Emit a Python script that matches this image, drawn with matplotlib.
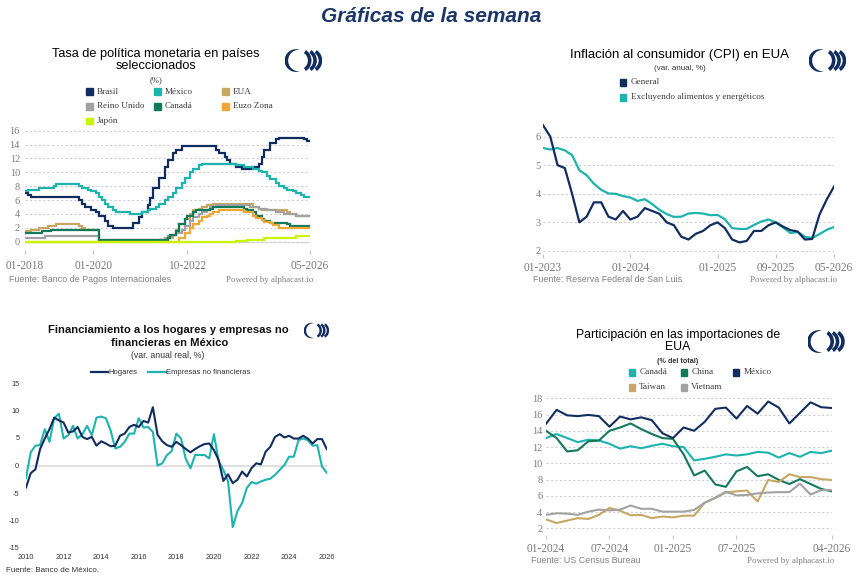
import numpy as np
import matplotlib
matplotlib.use("Agg")
import matplotlib.pyplot as plt
from matplotlib.patches import Rectangle, Wedge, Polygon
from matplotlib.lines import Line2D

plt.rcParams["axes.unicode_minus"] = False

W, H = 856, 581
SANS = "Liberation Sans"
SERIF = "Liberation Serif"

NAVY = "#112d5e"
TEAL = "#1db3ae"
TAN = "#c8a763"
GRAY = "#a2a2a2"
GREEN = "#12795a"
ORANGE = "#efa733"
LIME = "#c8f500"
TICK_GRAY = "#7b7b7b"
SRC_GRAY = "#808080"

# --- Tasa de politica monetaria (mes de cambio, nivel) ---
brasil_dates = ["2018-01", "2018-02", "2018-03", "2019-08", "2019-09", "2019-10", "2019-12",
                "2020-02", "2020-03", "2020-05", "2020-06", "2020-08", "2021-03", "2021-05",
                "2021-06", "2021-08", "2021-09", "2021-10", "2021-12", "2022-02", "2022-03",
                "2022-05", "2022-06", "2022-08", "2023-08", "2023-09", "2023-11", "2023-12",
                "2024-01", "2024-03", "2024-05", "2024-09", "2024-11", "2024-12", "2025-01",
                "2025-03", "2025-05", "2025-06", "2026-03", "2026-04"]
brasil_vals = [7.0, 6.75, 6.5, 6.0, 5.5, 5.0, 4.5, 4.25, 3.75, 3.0, 2.25, 2.0, 2.75, 3.5,
               4.25, 5.25, 6.25, 7.75, 9.25, 10.75, 11.75, 12.75, 13.25, 13.75, 13.25, 12.75,
               12.25, 11.75, 11.25, 10.75, 10.5, 10.75, 11.25, 12.25, 13.25, 14.25, 14.75,
               15.0, 14.75, 14.5]
mex_dates = ["2018-01", "2018-02", "2018-06", "2018-11", "2018-12", "2019-08", "2019-09",
             "2019-11", "2019-12", "2020-02", "2020-03", "2020-04", "2020-05", "2020-06",
             "2020-08", "2020-09", "2021-02", "2021-06", "2021-08", "2021-09", "2021-11",
             "2021-12", "2022-02", "2022-03", "2022-05", "2022-06", "2022-08", "2022-09",
             "2022-11", "2022-12", "2023-02", "2023-03", "2024-03", "2024-06", "2024-09",
             "2024-11", "2024-12", "2025-02", "2025-03", "2025-05", "2025-06", "2025-08",
             "2025-09", "2025-11", "2025-12", "2026-02", "2026-03"]
mex_vals = [7.25, 7.5, 7.75, 8.0, 8.25, 8.0, 7.75, 7.5, 7.25, 7.0, 6.5, 6.0, 5.5, 5.0, 4.5,
            4.25, 4.0, 4.25, 4.5, 4.75, 5.0, 5.5, 6.0, 6.5, 7.0, 7.75, 8.5, 9.25, 10.0, 10.5,
            11.0, 11.25, 11.0, 10.75, 10.5, 10.25, 10.0, 9.5, 9.0, 8.5, 8.0, 7.75, 7.5, 7.25,
            7.0, 6.75, 6.5]
eua_dates = ["2018-01", "2018-03", "2018-06", "2018-09", "2018-12", "2019-08", "2019-09",
             "2019-10", "2020-03", "2022-03", "2022-05", "2022-06", "2022-07", "2022-09",
             "2022-11", "2022-12", "2023-02", "2023-03", "2023-05", "2023-07", "2024-09",
             "2024-11", "2024-12", "2025-09", "2025-10", "2025-12"]
eua_vals = [1.5, 1.75, 2.0, 2.25, 2.5, 2.25, 2.0, 1.75, 0.25, 0.5, 1.0, 1.75, 2.5, 3.25, 4.0,
            4.5, 4.75, 5.0, 5.25, 5.5, 5.0, 4.75, 4.5, 4.25, 4.0, 3.75]
uk_dates = ["2018-01", "2018-08", "2020-03", "2021-12", "2022-02", "2022-03", "2022-05",
            "2022-06", "2022-08", "2022-09", "2022-11", "2022-12", "2023-02", "2023-03",
            "2023-05", "2023-06", "2023-08", "2024-08", "2024-11", "2025-02", "2025-05",
            "2025-08", "2025-12"]
uk_vals = [0.5, 0.75, 0.1, 0.25, 0.5, 0.75, 1.0, 1.25, 1.75, 2.25, 3.0, 3.5, 4.0, 4.25, 4.5,
           5.0, 5.25, 5.0, 4.75, 4.5, 4.25, 4.0, 3.75]
can_dates = ["2018-01", "2018-07", "2018-10", "2020-03", "2022-03", "2022-04", "2022-06",
             "2022-07", "2022-09", "2022-10", "2022-12", "2023-01", "2023-06", "2023-07",
             "2024-06", "2024-07", "2024-09", "2024-10", "2024-12", "2025-01", "2025-03",
             "2025-09", "2025-10"]
can_vals = [1.25, 1.5, 1.75, 0.25, 0.5, 1.0, 1.5, 2.5, 3.25, 3.75, 4.25, 4.5, 4.75, 5.0, 4.75,
            4.5, 4.25, 3.75, 3.25, 3.0, 2.75, 2.5, 2.25]
eur_dates = ["2018-01", "2022-07", "2022-09", "2022-11", "2022-12", "2023-02", "2023-03",
             "2023-05", "2023-06", "2023-07", "2023-09", "2024-06", "2024-09", "2024-10",
             "2024-12", "2025-01", "2025-03", "2025-04", "2025-06"]
eur_vals = [0.0, 0.5, 1.25, 2.0, 2.5, 3.0, 3.5, 3.75, 4.0, 4.25, 4.5, 4.25, 3.65, 3.4, 3.15,
            2.9, 2.65, 2.4, 2.0]
jpn_dates = ["2018-01", "2024-03", "2024-07", "2025-01", "2025-12"]
jpn_vals = [-0.1, 0.1, 0.25, 0.5, 0.75]
rate_names = ["Brasil", "México", "EUA", "Reino Unido", "Canadá", "Euzo Zona", "Japón"]
rate_colors = [NAVY, TEAL, TAN, GRAY, GREEN, ORANGE, LIME]
rate_ticks = ["01-2018", "01-2020", "10-2022", "05-2026"]

# --- CPI EUA (mensual 01-2023 a 05-2026) ---
cpi_general = [6.4, 6.0, 5.0, 4.9, 4.0, 3.0, 3.2, 3.7, 3.7, 3.2, 3.1, 3.4,
               3.1, 3.2, 3.5, 3.4, 3.3, 3.0, 2.9, 2.5, 2.4, 2.6, 2.7, 2.9,
               3.0, 2.8, 2.4, 2.3, 2.35, 2.7, 2.7, 2.9, 3.0, 2.85, 2.73, 2.68,
               2.4, 2.42, 3.27, 3.8, 4.25]
cpi_core = [5.6, 5.55, 5.6, 5.52, 5.35, 4.82, 4.65, 4.35, 4.14, 4.01, 4.0, 3.92,
            3.87, 3.75, 3.81, 3.64, 3.44, 3.29, 3.19, 3.2, 3.31, 3.33, 3.31, 3.25,
            3.26, 3.11, 2.8, 2.77, 2.77, 2.91, 3.03, 3.1, 3.0, 2.82, 2.63, 2.66,
            2.5, 2.45, 2.59, 2.74, 2.84]
cpi_names = ["General", "Excluyendo alimentos y energéticos"]
cpi_ticks = ["01-2023", "01-2024", "01-2025", "09-2025", "05-2026"]

# --- Financiamiento (trimestral 2010T1 a 2026T1) ---
hogares = [-4.0, -1.4, -0.7, 3.0, 4.9, 6.6, 8.7, 8.2, 7.8, 6.0, 6.2, 7.0,
           5.2, 4.8, 5.2, 3.6, 4.4, 4.0, 3.5, 3.6, 5.4, 5.8, 7.0, 7.4,
           7.0, 8.1, 7.8, 10.6, 5.6, 4.4, 3.7, 3.4, 4.3, 3.7, 3.0, 2.4,
           3.0, 3.5, 3.9, 4.0, 2.8, 1.0, -2.8, -1.6, -3.2, -2.6, -1.1, -2.0,
           -0.5, 0.4, 0.2, 2.5, 3.4, 5.2, 5.7, 5.1, 5.4, 4.9, 4.9, 5.4,
           4.9, 4.0, 4.8, 4.8, 3.0]
empresas = [-2.3, 2.4, 3.6, 3.7, 6.6, 4.3, 8.6, 9.4, 4.9, 5.5, 7.2, 4.9,
            5.7, 7.2, 5.5, 8.7, 8.9, 8.6, 6.4, 3.1, 3.4, 4.3, 5.8, 5.8,
            8.6, 6.9, 7.0, 6.1, 0.0, 0.4, 1.9, 2.6, 5.8, 4.9, 1.2, -0.5,
            1.9, 1.9, 1.9, 1.3, 5.7, 0.8, -0.8, -2.9, -11.2, -8.3, -6.8, -4.1,
            -3.0, -3.3, -2.9, -2.6, -2.4, -1.7, -0.8, 0.1, 1.6, 1.6, 4.6, 4.9,
            4.6, 3.6, 3.7, -0.2, -1.3]
fin_names = ["Hogares", "Empresas no financieras"]
fin_years = list(range(2010, 2027, 2))

# --- Importaciones EUA (mensual 01-2024 a 04-2026) ---
imp_canada = [13.1, 13.6, 13.1, 12.6, 12.9, 12.8, 12.4, 11.8, 12.1, 11.85, 12.15, 12.4,
              12.1, 12.0, 10.35, 10.55, 10.8, 11.1, 10.95, 11.1, 11.4, 11.3, 10.7, 11.25,
              10.8, 11.4, 11.25, 11.55]
imp_china = [14.0, 13.1, 11.45, 11.6, 12.7, 12.8, 14.0, 14.4, 14.9, 14.2, 13.6, 13.1,
             13.0, 11.1, 8.5, 9.1, 7.4, 7.1, 9.0, 9.55, 8.4, 8.65, 7.95, 7.45,
             8.05, 7.45, 6.85, 6.55]
imp_mexico = [14.85, 16.57, 15.9, 15.8, 15.95, 15.8, 14.5, 15.75, 15.4, 15.65, 15.3, 13.7,
              13.1, 14.4, 14.0, 15.1, 16.7, 16.85, 15.5, 17.05, 16.1, 17.6, 16.85, 14.9,
              16.2, 17.5, 16.9, 16.8]
imp_taiwan = [3.1, 2.65, 2.95, 3.25, 3.15, 3.65, 4.5, 4.15, 3.6, 3.65, 3.25, 3.45,
              3.35, 3.55, 3.55, 5.15, 5.75, 6.4, 6.55, 6.65, 5.3, 7.95, 7.7, 8.65,
              8.3, 8.3, 8.05, 7.95]
imp_vietnam = [3.65, 3.85, 3.8, 3.65, 4.05, 4.3, 4.2, 4.3, 4.8, 4.4, 4.4, 4.05,
               4.05, 4.05, 4.25, 5.15, 5.75, 6.5, 6.05, 6.1, 6.3, 6.4, 6.45, 6.45,
               7.5, 6.15, 6.7, 6.7]
imp_names = ["Canadá", "China", "México", "Taiwan", "Vietnam"]
imp_colors = [TEAL, GREEN, NAVY, TAN, GRAY]
imp_ticks = ["01-2024", "07-2024", "01-2025", "07-2025", "04-2026"]


def months(s, y0, m0):
    a, b = s.split("-")
    y, m = (int(a), int(b)) if len(a) == 4 else (int(b), int(a))
    return (y - y0) * 12 + m - m0


def fx(x):
    return x / W


def fy(y):
    return 1 - y / H


def axes_px(left, top, right, bottom):
    ax = fig.add_axes([left / W, 1 - bottom / H, (right - left) / W, (bottom - top) / H])
    for s in ax.spines.values():
        s.set_visible(False)
    ax.set_facecolor("none")
    return ax


def txt(x, y, s, size, family=SANS, **kw):
    kw.setdefault("ha", "center")
    kw.setdefault("va", "center")
    fig.text(fx(x), fy(y), s, fontsize=size, family=family, **kw)


def square_legend(names, colors, x0, y0, dx, dy, ncol, gap=7.5):
    for i, (n, c) in enumerate(zip(names, colors)):
        x = x0 + (i % ncol) * dx
        y = y0 + (i // ncol) * dy
        fig.patches.append(Rectangle((fx(x - 3.2), fy(y + 3.2)), 6.4 / W, 6.4 / H,
                                     transform=fig.transFigure, color=c))
        txt(x + gap, y, n, 6.6, SERIF, ha="left", color="#3a3a3a")


def logo(left, top, w, h):
    ax = fig.add_axes([left / W, 1 - (top + h) / H, w / W, h / H])
    ax.set_xlim(0, 44)
    ax.set_ylim(0, 29.7)
    ax.axis("off")
    # media luna abierta a la derecha, puntas finas
    t_out = np.radians(np.linspace(70, 290, 50))
    t_in = np.radians(np.linspace(275, 85, 50))
    outer = np.column_stack([13 + 13.5 * np.cos(t_out), 14.8 + 13.5 * np.sin(t_out)])
    inner = np.column_stack([16.5 + 12.74 * np.cos(t_in), 14.8 + 12.74 * np.sin(t_in)])
    ax.add_patch(Polygon(np.vstack([outer, inner]), closed=True, color=NAVY, lw=0))
    for k in range(3):
        ax.add_patch(Wedge((16.5 + 6.4 * k, 14.8), 15, -56, 56, width=4.3, color=NAVY, lw=0))


def alpha_axes(ax, ticks, tick_pos, yticks, xpad, ypad):
    ax.set_xticks(tick_pos)
    ax.set_xticklabels(ticks)
    ax.set_yticks(yticks)
    ax.tick_params(axis="x", length=3, width=0.8, color="#c4c4c4", pad=xpad,
                   labelsize=8.3, labelcolor=TICK_GRAY)
    ax.tick_params(axis="y", length=0, pad=ypad, labelsize=7.5, labelcolor=TICK_GRAY)
    for lab in ax.get_xticklabels() + ax.get_yticklabels():
        lab.set_family(SERIF)
    ax.grid(axis="y", color="#cfcfcf", linestyle=(0, (2, 2)), linewidth=0.8)
    ax.set_axisbelow(True)


fig = plt.figure(figsize=(W / 100, H / 100), dpi=100)

txt(431, 16, "Gráficas de la semana", 15, weight="bold", style="italic", color="#1b3668")

# ---------- Panel 1: tasas de politica ----------
ax1 = axes_px(25, 128.6, 310, 250)
end1 = months("2026-05", 2018, 1)
series = [brasil_dates, mex_dates, eua_dates, uk_dates, can_dates, eur_dates, jpn_dates]
values = [brasil_vals, mex_vals, eua_vals, uk_vals, can_vals, eur_vals, jpn_vals]
ax1.axhline(0, color="#dedede", lw=1.0, zorder=0)
for d, v, c in zip(series, values, rate_colors):
    xs = [months(s, 2018, 1) for s in d] + [end1]
    ax1.plot(xs, v + [v[-1]], drawstyle="steps-post", color=c, lw=1.6, solid_joinstyle="miter")
ax1.set_xlim(0, end1)
ax1.set_ylim(-1.2, 16.3)
alpha_axes(ax1, rate_ticks, [months(t, 2018, 1) for t in rate_ticks], range(0, 17, 2), 4.5, 3.6)

txt(156, 54, "Tasa de política monetaria en países", 9.2)
txt(156, 66, "seleccionados", 9.2)
txt(156, 80.5, "(%)", 6.2, SERIF, color="#333333")
square_legend(rate_names, rate_colors, 89.5, 91.5, 68, 14.8, 3)
txt(9, 280, "Fuente: Banco de Pagos Internacionales", 6.4, ha="left", color=SRC_GRAY)
txt(226, 280, "Powered by alphacast.io", 6.4, SERIF, ha="left", color=SRC_GRAY)
logo(285, 48, 37, 25)

# ---------- Panel 2: CPI ----------
ax2 = axes_px(543, 122.3, 834, 254.4)
xm = np.arange(len(cpi_general))
ax2.plot(xm, cpi_general, color=NAVY, lw=1.6, zorder=3)
ax2.plot(xm, cpi_core, color=TEAL, lw=1.6, zorder=2)
ax2.set_xlim(0, len(cpi_general) - 1)
ax2.set_ylim(1.88, 6.5)
alpha_axes(ax2, cpi_ticks, [months(t, 2023, 1) for t in cpi_ticks], range(2, 7), 2.6, 1.8)

txt(680, 55, "Inflación al consumidor (CPI) en EUA", 9.5)
txt(680, 69, "(var. anual, %)", 5.8, color="#333333")
square_legend(cpi_names, [NAVY, TEAL], 622.7, 82.3, 0, 15, 1, gap=8)
txt(533, 280, "Fuente: Reserva Federal de San Luis", 6.4, ha="left", color=SRC_GRAY)
txt(750, 280, "Powered by alphacast.io", 6.4, SERIF, ha="left", color=SRC_GRAY)
logo(809, 48, 37, 25)

# ---------- Panel 3: financiamiento ----------
ax3 = axes_px(26, 383, 326.7, 548)
xq = 2010 + np.arange(len(hogares)) / 4
ax3.axhline(0, color="#dcdcdc", lw=1.2, zorder=0)
ax3.plot(xq, hogares, color=NAVY, lw=1.5, zorder=3)
ax3.plot(xq, empresas, color=TEAL, lw=1.5, zorder=2)
ax3.set_xlim(2010, 2026)
ax3.set_ylim(-15, 15)
ax3.set_xticks(fin_years)
ax3.set_yticks(range(-15, 16, 5))
ax3.tick_params(axis="both", length=0, labelsize=5.3, labelcolor="#333333")
ax3.tick_params(axis="x", pad=4.3)
ax3.tick_params(axis="y", pad=4.8)
for lab in ax3.get_xticklabels() + ax3.get_yticklabels():
    lab.set_family(SANS)

txt(168, 330, "Financiamiento a los hogares y empresas no", 8.1, weight="bold", color="#111111")
txt(170, 343.3, "financieras en México", 8.1, weight="bold", color="#111111")
txt(168, 355.7, "(var. anual real, %)", 6.3, color="#333333")
for (x0, name, c) in [(90.7, fin_names[0], NAVY), (148, fin_names[1], TEAL)]:
    fig.lines.append(Line2D([fx(x0), fx(x0 + 17.5)], [fy(372.3), fy(372.3)],
                            transform=fig.transFigure, color=c, lw=1.6))
    txt(x0 + 18, 372.3, name, 5.5, ha="left", color="#333333")
txt(6.5, 571, "Fuente: Banco de México.", 5.8, ha="left", color="#333333")
logo(304, 322, 25, 17)

# ---------- Panel 4: importaciones ----------
ax4 = axes_px(546, 395, 831.7, 534.8)
xi = np.arange(len(imp_mexico))
for vals, c in zip([imp_canada, imp_china, imp_mexico, imp_taiwan, imp_vietnam], imp_colors):
    ax4.plot(xi, vals, color=c, lw=1.5)
ax4.set_xlim(0, len(imp_mexico) - 1)
ax4.set_ylim(1.2, 18.4)
alpha_axes(ax4, imp_ticks, [months(t, 2024, 1) for t in imp_ticks], range(2, 19, 2), 2.7, 2.7)

txt(678, 335, "Participación en las importaciones de", 8.8)
txt(678, 346.5, "EUA", 8.8)
txt(678, 361.7, "(% del total)", 5.2, weight="bold", color="#333333")
square_legend(imp_names, imp_colors, 632, 372.3, 52, 15, 3, gap=7.3)
txt(531, 560.7, "Fuente: US Census Bureau", 6.4, ha="left", color=SRC_GRAY)
txt(747, 560.7, "Powered by alphacast.io", 6.4, SERIF, ha="left", color=SRC_GRAY)
logo(807.5, 329, 37, 25)

fig.savefig("out.png", dpi=100)
